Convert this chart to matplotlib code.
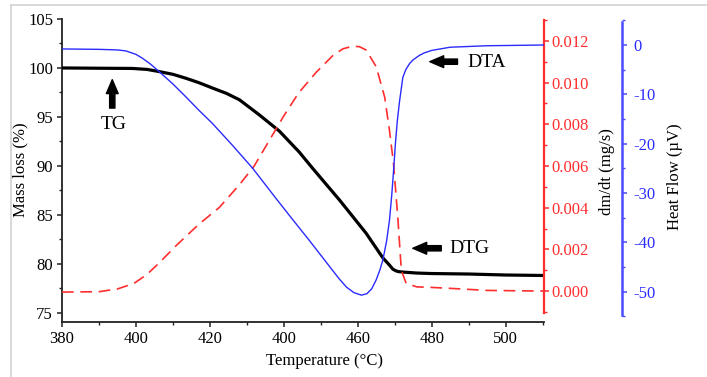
import matplotlib
matplotlib.use("Agg")
import matplotlib.pyplot as plt
from matplotlib.ticker import MultipleLocator, FixedLocator, FixedFormatter, FormatStrFormatter
from matplotlib.lines import Line2D

plt.rcParams['font.family'] = ['Liberation Serif', 'DejaVu Serif']
plt.rcParams['axes.unicode_minus'] = False

# Thermogravimetric mass (%)
tg_temp = [380, 390, 399, 403, 406, 410, 413.5, 417, 420.7, 424.5, 428, 433.4, 438.8,
           444.2, 447.8, 451.5, 455.1, 458.7, 462.3, 466.8, 468.5, 469.5, 470.3, 471,
           472.2, 476, 480, 490, 500, 510.4]
tg_mass = [100.0, 99.97, 99.95, 99.85, 99.65, 99.35, 98.95, 98.5, 97.95, 97.4, 96.75,
           95.2, 93.55, 91.4, 89.75, 88.1, 86.5, 84.8, 83.1, 80.6, 79.9, 79.45, 79.28,
           79.2, 79.15, 79.05, 79.0, 78.95, 78.85, 78.8]

# Derivative mass loss rate (mg/s)
dtg_temp = [380, 390, 395, 399.5, 403, 406, 411, 417, 422.5, 428, 432, 436, 440, 444,
            448.8, 453.3, 456, 458.7, 460.5, 462.3, 465, 467.3, 468.6, 469.7, 470.9,
            471.8, 473.1, 476, 479.4, 485, 495, 510.4]
dtg_rate = [-0.00005, -0.00003, 0.0001, 0.00037, 0.0008, 0.0013, 0.0022, 0.0032, 0.0040,
            0.0051, 0.0060, 0.0072, 0.0084, 0.0095, 0.0105, 0.0113, 0.01162, 0.01175,
            0.01172, 0.01156, 0.01076, 0.0093, 0.0077, 0.0061, 0.0034, 0.0010, 0.00037,
            0.0002, 0.00018, 0.00013, 0.00003, 0.0]

# Differential thermal analysis heat flow (µV)
dta_temp = [380, 390, 395, 397.3, 400, 401.8, 404, 406.3, 410, 413.5, 417, 420.7, 426.2,
            431.6, 437.9, 442, 446.9, 452.4, 455, 457, 459, 461, 462.5, 463.8, 465, 466,
            466.8, 467.8, 468.6, 469.2, 469.7, 470.2, 470.7, 471.3, 472.2, 473, 474, 475,
            476.7, 478, 480, 485, 495, 510.4]
dta_heat = [-0.8, -0.88, -1.0, -1.2, -1.9, -2.7, -3.9, -5.4, -7.9, -10.5, -13.2, -15.9,
            -20.4, -25.0, -31.1, -35.0, -39.6, -44.9, -47.4, -49.1, -50.2, -50.7, -50.4,
            -49.4, -47.6, -45.6, -43.6, -39.8, -35.5, -30.5, -25.5, -20.0, -15.5, -11.5,
            -6.6, -5.0, -3.8, -3.0, -2.1, -1.6, -1.1, -0.45, -0.15, 0.0]

temp_ticks = [380, 400, 420, 440, 460, 480, 500]
temp_tick_labels = ['380', '400', '420', '400', '460', '480', '500']

RED = '#ff2e2e'
BLUE = '#2b2bff'
W, H = 707, 377

fig = plt.figure(figsize=(W / 100, H / 100), dpi=100)
fig.patch.set_facecolor('white')

# thin frame around the figure
fig.add_artist(Line2D([11 / W, 11 / W], [0, 1 - 5 / H], color='#d2d2d2', lw=1.2,
                      transform=fig.transFigure))
fig.add_artist(Line2D([11 / W, 1], [1 - 5 / H, 1 - 5 / H], color='#d2d2d2', lw=1.2,
                      transform=fig.transFigure))

left, right, top, bottom = 62, 544, 19, 321.7
ax = fig.add_axes([left / W, 1 - bottom / H, (right - left) / W, (bottom - top) / H])
ax.set_facecolor('none')
ax2 = ax.twinx()
ax3 = ax.twinx()

# --- TG on main axes
ax.plot(tg_temp, tg_mass, color='black', lw=2.3, solid_joinstyle='round', zorder=3)
ax.set_xlim(380, 510.4)
ax.set_ylim(74.08, 105)
ax.xaxis.set_major_locator(FixedLocator(temp_ticks))
ax.xaxis.set_major_formatter(FixedFormatter(temp_tick_labels))
ax.xaxis.set_minor_locator(MultipleLocator(10))
ax.yaxis.set_major_locator(MultipleLocator(5))
ax.yaxis.set_minor_locator(MultipleLocator(2.5))
for s in ('top', 'right'):
    ax.spines[s].set_visible(False)
for s in ('left', 'bottom'):
    ax.spines[s].set_color('#222222')
    ax.spines[s].set_linewidth(1.3)
ax.tick_params(which='major', direction='out', length=3.4, width=1.1, color='#222222',
               labelsize=12)
ax.tick_params(which='minor', direction='out', length=2.4, width=1.0, color='#222222')
ax.tick_params(axis='x', which='major', pad=3)
ax.tick_params(axis='y', which='major', pad=3)

# --- DTG on first right axis
ax2.plot(dtg_temp, dtg_rate, color=RED, lw=1.2, linestyle=(0, (7.0, 4.0)))
ax2.set_ylim(-0.00147, 0.01305)
for s in ('top', 'left', 'bottom'):
    ax2.spines[s].set_visible(False)
ax2.spines['right'].set_color(RED)
ax2.spines['right'].set_linewidth(1.6)
ax2.spines['right'].set_bounds(-0.00105, 0.013)
ax2.yaxis.set_major_locator(MultipleLocator(0.002))
ax2.yaxis.set_minor_locator(MultipleLocator(0.001))
ax2.yaxis.set_major_formatter(FormatStrFormatter('%.3f'))
ax2.tick_params(which='major', direction='out', length=3.4, width=1.1, color=RED,
                labelcolor=RED, labelsize=12, pad=2)
ax2.tick_params(which='minor', direction='out', length=2.4, width=1.0, color=RED)

# --- DTA on second right axis
ax3.plot(dta_temp, dta_heat, color=BLUE, lw=1.0)
ax3.set_ylim(-56.08, 5.27)
ax3.spines['right'].set_position(('axes', (621.7 - left) / (right - left)))
for s in ('top', 'left', 'bottom'):
    ax3.spines[s].set_visible(False)
ax3.spines['right'].set_color('#4a4aff')
ax3.spines['right'].set_linewidth(1.8)
ax3.spines['right'].set_bounds(-54.7, 4.7)
ax3.yaxis.set_major_locator(MultipleLocator(10))
ax3.yaxis.set_minor_locator(MultipleLocator(5))
ax3.tick_params(which='major', direction='out', length=3.4, width=1.1, color='#4a4aff',
                labelcolor=BLUE, labelsize=12, pad=5)
ax3.tick_params(which='minor', direction='out', length=2.4, width=1.0, color='#4a4aff')

# --- axis titles
fig.text(20 / W, 1 - 170 / H, 'Mass loss (%)', rotation=90, ha='center', va='center',
         fontsize=12)
fig.text(324 / W, 1 - 361 / H, 'Temperature (°C)', ha='center', va='center', fontsize=12)
fig.text(607 / W, 1 - 172 / H, 'dm/dt (mg/s)', rotation=90, ha='center', va='center',
         fontsize=12)
fig.text(675 / W, 1 - 177 / H, 'Heat Flow (µV)', rotation=90, ha='center', va='center',
         fontsize=12)

# --- curve labels with arrows
arrow = dict(arrowstyle='simple,head_length=1.0,head_width=0.85,tail_width=0.38',
             fc='black', ec='black', shrinkA=0, shrinkB=0, mutation_scale=10)
ax.annotate('', xy=(393.6, 98.8), xytext=(393.6, 95.9), arrowprops=arrow)
ax.text(394.1, 94.2, 'TG', ha='center', va='center', fontsize=14)
ax.annotate('', xy=(479.5, 100.64), xytext=(487.0, 100.64), arrowprops=arrow)
ax.text(494.9, 100.6, 'DTA', ha='center', va='center', fontsize=14)
ax.annotate('', xy=(474.9, 81.58), xytext=(482.6, 81.58), arrowprops=arrow)
ax.text(490.3, 81.6, 'DTG', ha='center', va='center', fontsize=14)

fig.savefig('out.png', dpi=100)
